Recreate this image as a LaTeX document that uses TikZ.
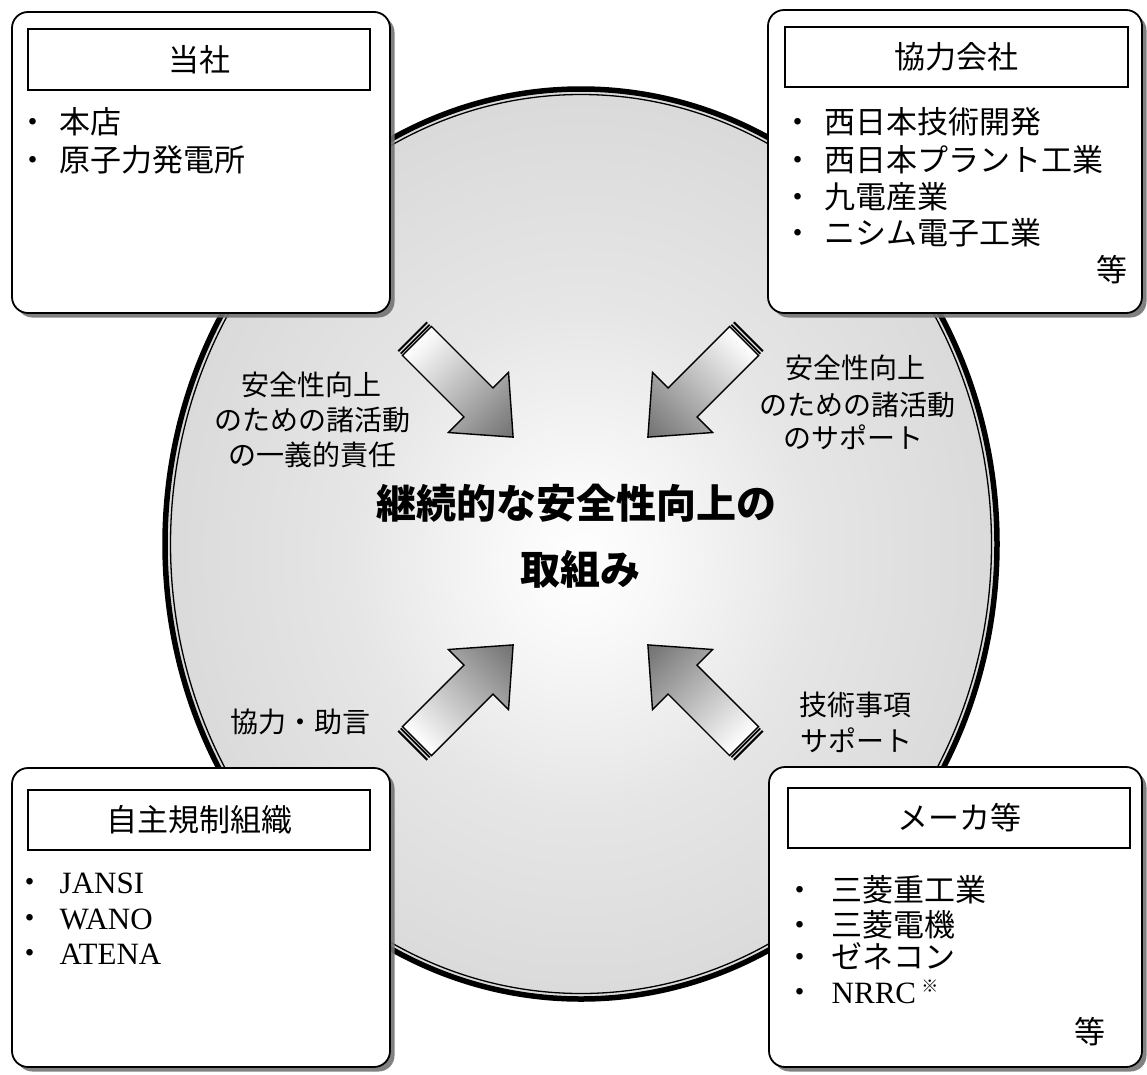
\documentclass[tikz,border=0pt]{standalone}
\usepackage{fontspec}
\setmainfont{Liberation Serif}
\newfontfamily\jp{Noto Sans CJK JP}
\usetikzlibrary{shadows}
\pgfdeclareradialshading{ellshade}{\pgfpoint{0bp}{-1bp}}{color(0bp)=(white); color(5bp)=(white!97!black); color(14bp)=(white!90!black); color(25bp)=(white!85.5!black); color(50bp)=(white!85.5!black)}
\newcommand{\arrowbody}{%
  \draw[left color=white, middle color=black!22, right color=black!56, line width=1.4pt, line join=miter]
    (7,-20.5) -- (94,-20.5) -- (94,-42.5) -- (143,0) -- (94,42.5) -- (94,20.5) -- (7,20.5) -- cycle;
  \fill (0,-20.5) rectangle (2,20.5);
  \fill (3.6,-20.5) rectangle (5.4,20.5);
}
\begin{document}
\begin{tikzpicture}[x=1pt,y=-1pt,
  panel/.style={draw, line width=1.8pt, rounded corners=16pt, fill=white, inner sep=0pt,
    drop shadow={shadow xshift=4.5pt, shadow yshift=-4.5pt, fill=black!55, opacity=0.9}},
  titlebox/.style={draw, line width=1.5pt, fill=white, inner sep=0pt,
    font=\jp\fontsize{31}{36}\selectfont},
  item/.style={anchor=west, inner sep=0pt, text height=27pt, text depth=4pt,
    font=\jp\fontsize{31}{36}\selectfont},
  itemr/.style={item, anchor=east},
  lbl/.style={inner sep=0pt, text height=24.6pt, text depth=3.4pt,
    font=\jp\fontsize{28}{34}\selectfont},
  big/.style={inner sep=0pt, text height=35pt, text depth=5pt,
    font=\jp\bfseries\fontsize{40}{48}\selectfont}]
\useasboundingbox (0,0) rectangle (1147,1074);

% central ellipse
\shade[shading=ellshade] (581,544) ellipse [x radius=416pt, y radius=455pt];
\draw[line width=5.5pt] (581,544) ellipse [x radius=416pt, y radius=455pt];
\draw[line width=1.3pt] (581,544) ellipse [x radius=410.5pt, y radius=449.5pt];

% block arrows
\begin{scope}[transform canvas={shift={(412,336)},rotate=-45}]\arrowbody\end{scope}
\begin{scope}[transform canvas={shift={(749,336)},rotate=-135}]\arrowbody\end{scope}
\begin{scope}[transform canvas={shift={(412,746)},rotate=45}]\arrowbody\end{scope}
\begin{scope}[transform canvas={shift={(749,746)},rotate=135}]\arrowbody\end{scope}

% centre text
\node[big] (main1) at (576,503) {継続的な安全性向上の};
\node[big] (main2) at (580,569) {取組み};

% arrow labels
\node[lbl] (la1) at (311,385) {安全性向上};
\node[lbl] (la2) at (312,420) {のための諸活動};
\node[lbl] (la3) at (312,455) {の一義的責任};
\node[lbl] (ra1) at (855,368) {安全性向上};
\node[lbl] (ra2) at (857,405) {のための諸活動};
\node[lbl] (ra3) at (853,438) {のサポート};
\node[lbl] (lb1) at (300,722) {協力・助言};
\node[lbl] (rb1) at (855,705) {技術事項};
\node[lbl] (rb2) at (856,741) {サポート};

% top-left panel
\node[panel, minimum width=378pt, minimum height=301pt] (tl) at (201,162.5) {};
\node[titlebox, minimum width=342pt, minimum height=61pt] (tlt) at (199,59.5) {当社};
\node[item] (tl1) at (17.5,122) {・\hspace{11pt}本店};
\node[item] (tl2) at (17.5,160) {・\hspace{11pt}原子力発電所};

% top-right panel
\node[panel, minimum width=374pt, minimum height=303pt] (tr) at (955,161.5) {};
\node[titlebox, minimum width=343pt, minimum height=60pt] (trt) at (956.5,57) {協力会社};
\node[item] (tr1) at (782.5,122) {・\hspace{11pt}西日本技術開発};
\node[item] (tr2) at (782.5,160) {・\hspace{11pt}西日本プラント工業};
\node[item] (tr3) at (782.5,197) {・\hspace{11pt}九電産業};
\node[item] (tr4) at (782.5,233) {・\hspace{11pt}ニシム電子工業};
\node[itemr] (tr5) at (1128,270) {等};

% bottom-left panel
\node[panel, minimum width=378pt, minimum height=299pt] (bl) at (201,917.5) {};
\node[titlebox, minimum width=342pt, minimum height=60pt] (blt) at (199,820) {自主規制組織};
\node[item] (bl1) at (14.5,882) {・\hspace{14pt}{\rmfamily JANSI}};
\node[item] (bl2) at (14.5,918) {・\hspace{14pt}{\rmfamily WANO}};
\node[item] (bl3) at (14.5,953) {・\hspace{14pt}{\rmfamily ATENA}};

% bottom-right panel
\node[panel, minimum width=373pt, minimum height=300pt] (br) at (955.5,917) {};
\node[titlebox, minimum width=342pt, minimum height=60pt] (brt) at (959,818) {メーカ等};
\node[item] (br1) at (784.5,890) {・\hspace{16pt}三菱重工業};
\node[item] (br2) at (784.5,925) {・\hspace{16pt}三菱電機};
\node[item] (br3) at (784.5,957) {・\hspace{16pt}ゼネコン};
\node[item] (br4) at (784.5,992) {・\hspace{16pt}{\rmfamily NRRC}\,\raisebox{11pt}{\fontsize{17}{20}\selectfont ※}};
\node[itemr] (br5) at (1106,1032) {等};
\end{tikzpicture}
\end{document}
